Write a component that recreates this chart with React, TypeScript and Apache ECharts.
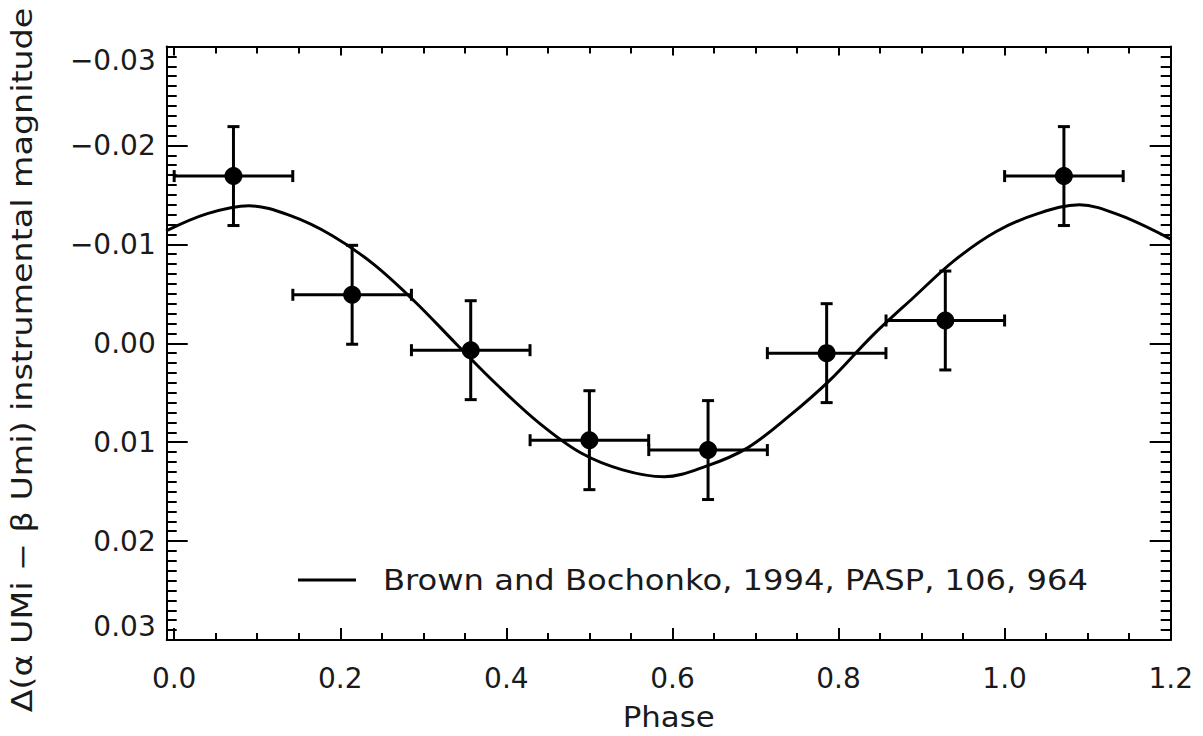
import React, { useEffect, useRef } from "react";
import * as echarts from "echarts";

// Binned observations
const phaseCenters = [0.0714, 0.2143, 0.3571, 0.5, 0.6429, 0.7857, 0.9286, 1.0714];
const magnitudes = [-0.0169, -0.0049, 0.0007, 0.0098, 0.0108, 0.001, -0.0023, -0.0169];
const phaseHalfWidths = [0.0714, 0.0714, 0.0714, 0.0714, 0.0714, 0.0714, 0.0714, 0.0714];
const magErrors = [0.005, 0.005, 0.005, 0.005, 0.005, 0.005, 0.005, 0.005];

// Model curve (Brown and Bochonko 1994)
const curvePhase = [
  -0.0097, 0.04, 0.09, 0.14, 0.19, 0.24, 0.29, 0.34, 0.39, 0.44, 0.49, 0.54, 0.59, 0.64, 0.69,
  0.74, 0.79, 0.84, 0.89, 0.94, 0.99, 1.04, 1.09, 1.14, 1.2,
];
const curveMag = [
  -0.01136, -0.0131, -0.0139, -0.0129, -0.0109, -0.008, -0.0042, 0.0001, 0.0043, 0.0081,
  0.0111, 0.0128, 0.0135, 0.01245, 0.0106, 0.0074, 0.0037, -0.0007, -0.0046, -0.0084, -0.0113,
  -0.0131, -0.014, -0.0129, -0.01053,
];

const xMajorTicks = [0, 0.2, 0.4, 0.6, 0.8, 1.0, 1.2];
const xMinorTicks = [
  0.05, 0.1, 0.15, 0.25, 0.3, 0.35, 0.45, 0.5, 0.55, 0.65, 0.7, 0.75, 0.85, 0.9, 0.95, 1.05,
  1.1, 1.15,
];

const legendName = "Brown and Bochonko, 1994, PASP, 106, 964";
const yTitle = "\u0394(\u03b1 UMi \u2212 \u03b2 Umi) instrumental magnitude";
const xTitle = "Phase";

const FONT = "DejaVu Sans";
const TXT = "#1a1a1a";

export default function App() {
  const ref = useRef<HTMLDivElement>(null);
  useEffect(() => {
    if (!ref.current) return;
    const chart = echarts.init(ref.current, undefined, { renderer: "svg" });
    const X_MIN = -0.009;
    const X_MAX = 1.2;
    const baseX = {
      type: "value",
      min: X_MIN,
      max: X_MAX,
      splitLine: { show: false },
      axisLabel: { show: false },
      axisLine: { show: false, onZero: false },
    };
    const tickLine = { color: "#000", width: 2 };
    const option: any = {
      animation: false,
      backgroundColor: "#fff",
      grid: { left: 166.7, right: 32.3, top: 46.5, bottom: 96, containLabel: false },
      xAxis: [
        {
          ...baseX,
          position: "bottom",
          axisLine: { show: true, onZero: false, lineStyle: tickLine },
          axisTick: { show: true, inside: true, length: 12, customValues: xMajorTicks, lineStyle: tickLine },
          axisLabel: {
            show: true,
            customValues: xMajorTicks,
            formatter: (v: number) => v.toFixed(1),
            fontFamily: FONT,
            fontSize: 28,
            color: TXT,
            margin: 24,
          },
        },
        {
          ...baseX,
          position: "bottom",
          axisTick: { show: true, inside: true, length: 7, customValues: xMinorTicks, lineStyle: tickLine },
        },
        {
          ...baseX,
          position: "top",
          axisLine: { show: true, onZero: false, lineStyle: tickLine },
          axisTick: { show: true, inside: true, length: 9, customValues: xMajorTicks, lineStyle: tickLine },
        },
        {
          ...baseX,
          position: "top",
          axisTick: { show: true, inside: true, length: 7, customValues: xMinorTicks, lineStyle: tickLine },
        },
      ],
      yAxis: [
        {
          type: "value",
          position: "left",
          inverse: true,
          min: -0.03,
          max: 0.03,
          interval: 0.01,
          splitLine: { show: false },
          axisLine: { show: true, onZero: false, lineStyle: tickLine },
          axisTick: { show: true, inside: true, length: 21, lineStyle: tickLine },
          minorTick: { show: true, splitNumber: 10, length: 10, lineStyle: tickLine },
          axisLabel: {
            show: true,
            fontFamily: FONT,
            fontSize: 28,
            color: TXT,
            margin: 11,
            verticalAlignMinLabel: "top",
            verticalAlignMaxLabel: "bottom",
            formatter: (v: number) => {
              const s = Math.abs(v).toFixed(2);
              return v < -1e-9 ? "\u2212" + s : s;
            },
          },
        },
        {
          type: "value",
          position: "right",
          inverse: true,
          min: -0.03,
          max: 0.03,
          interval: 0.01,
          splitLine: { show: false },
          axisLabel: { show: false },
          axisLine: { show: true, onZero: false, lineStyle: tickLine },
          axisTick: { show: true, inside: true, length: 21, lineStyle: tickLine },
          minorTick: { show: true, splitNumber: 10, length: 10, lineStyle: tickLine },
        },
      ],
      graphic: [
        {
          type: "text",
          x: 668.7,
          y: 717,
          scaleX: 1.1,
          style: {
            text: xTitle,
            fontFamily: FONT,
            fontSize: 28,
            fill: TXT,
            textAlign: "center",
            textVerticalAlign: "middle",
          },
        },
        {
          type: "text",
          x: 22,
          y: 360,
          rotation: Math.PI / 2,
          scaleX: 1.19,
          style: {
            text: yTitle,
            fontFamily: FONT,
            fontSize: 28,
            fill: TXT,
            textAlign: "center",
            textVerticalAlign: "middle",
          },
        },
        {
          type: "line",
          shape: { x1: 298, y1: 580, x2: 356, y2: 580 },
          style: { stroke: "#000", lineWidth: 3 },
        },
        {
          type: "text",
          x: 383,
          y: 580,
          scaleX: 1.15,
          style: {
            text: legendName,
            fontFamily: FONT,
            fontSize: 28,
            fill: TXT,
            textAlign: "left",
            textVerticalAlign: "middle",
          },
        },
      ],
      series: [
        {
          name: legendName,
          type: "line",
          xAxisIndex: 0,
          yAxisIndex: 0,
          data: curvePhase.map((p, i) => [p, curveMag[i]]),
          smooth: 0.35,
          symbol: "none",
          clip: true,
          lineStyle: { color: "#000", width: 3 },
          itemStyle: { color: "#000" },
        },
        {
          name: "errors",
          type: "custom",
          xAxisIndex: 0,
          yAxisIndex: 0,
          clip: false,
          data: phaseCenters.map((p, i) => [p, magnitudes[i], phaseHalfWidths[i], magErrors[i]]),
          encode: { x: 0, y: 1 },
          renderItem: (params: any, api: any) => {
            const p = api.value(0);
            const v = api.value(1);
            const xe = api.value(2);
            const ye = api.value(3);
            const top = api.coord([p, v - ye]);
            const bot = api.coord([p, v + ye]);
            const l = api.coord([p - xe, v]);
            const r = api.coord([p + xe, v]);
            const cap = 6;
            const style = { stroke: "#000", lineWidth: 3 };
            const ln = (x1: number, y1: number, x2: number, y2: number) => ({
              type: "line",
              shape: { x1, y1, x2, y2 },
              style,
            });
            return {
              type: "group",
              children: [
                ln(top[0], top[1], bot[0], bot[1]),
                ln(top[0] - cap, top[1], top[0] + cap, top[1]),
                ln(bot[0] - cap, bot[1], bot[0] + cap, bot[1]),
                ln(l[0], l[1], r[0], r[1]),
                ln(l[0], l[1] - cap, l[0], l[1] + cap),
                ln(r[0], r[1] - cap, r[0], r[1] + cap),
              ],
            };
          },
        },
        {
          name: "points",
          type: "scatter",
          xAxisIndex: 0,
          yAxisIndex: 0,
          symbol: "circle",
          symbolSize: 18,
          itemStyle: { color: "#000", opacity: 1 },
          data: phaseCenters.map((p, i) => [p, magnitudes[i]]),
        },
      ],
    };
    chart.setOption(option);
    return () => chart.dispose();
  }, []);
  return (
    <div
      ref={ref}
      style={{ position: "fixed", left: 0, top: 0, width: 1203, height: 736, background: "#fff" }}
    />
  );
}
